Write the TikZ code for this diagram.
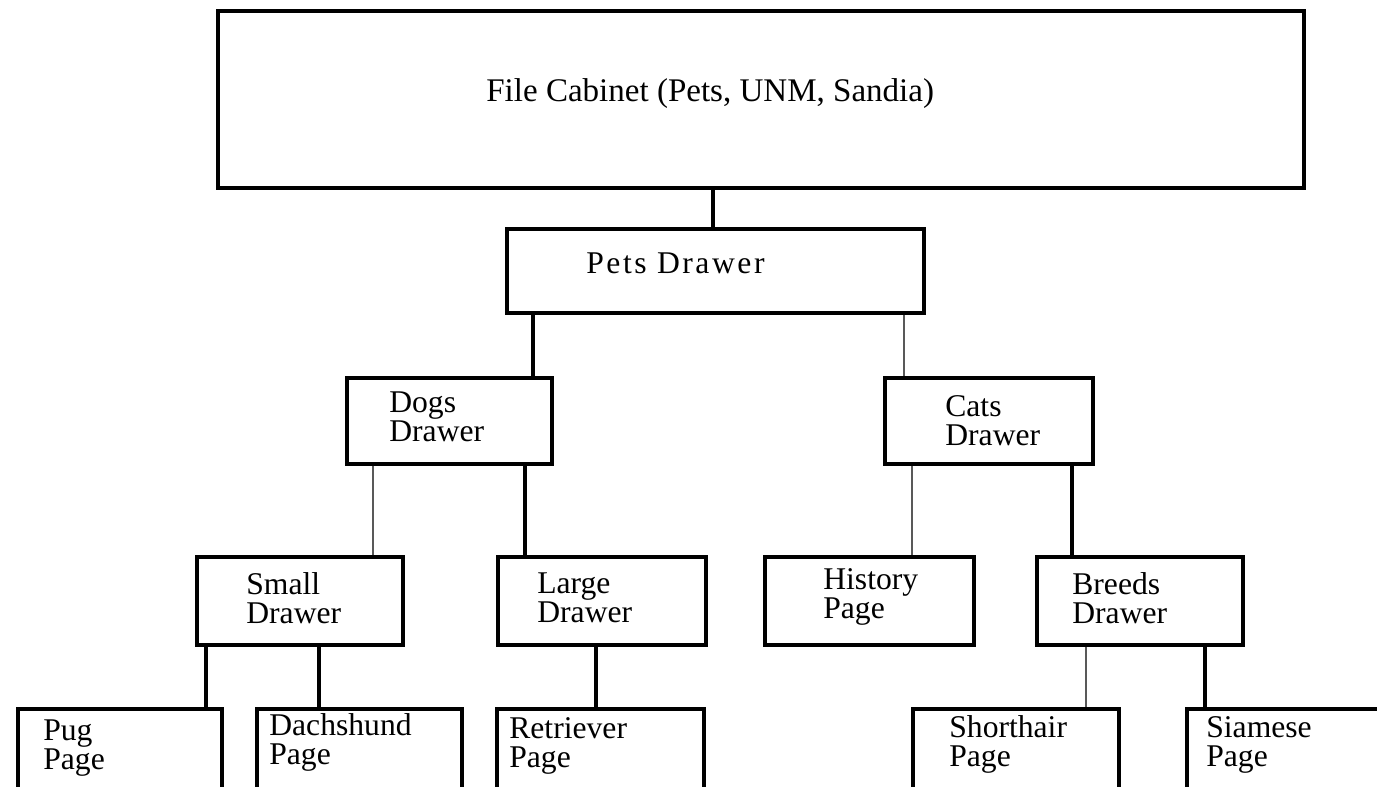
\documentclass[tikz,border=0pt]{standalone}
\usepackage{fontspec}
\setmainfont{Liberation Serif}
\usetikzlibrary{fit}
\newcommand{\lblfont}{\fontsize{18pt}{16.5pt}\selectfont}

\begin{document}
\begin{tikzpicture}[x=0.02cm, y=-0.02cm,
      box/.style={draw, line width=2.2pt, inner sep=0pt},
      lbl/.style={font=\lblfont, align=left, anchor=north west, inner sep=0pt},
      conn/.style={line width=2pt},
      thinconn/.style={line width=1pt, draw=black!65}]
    \clip (0,0) rectangle (1377,787);
    % cabinet and drawers
    \node[box, fit={(218,11) (1304,188)}] (cabinet) {};
    \node[lbl, font=\fontsize{18.8pt}{18pt}\selectfont] (cabinetTxt) at (486,78)
          {File Cabinet (Pets, UNM, Sandia)};
    \node[box, fit={(507,229) (924,313)}] (pets) {};
    \node[lbl, font=\lblfont\addfontfeature{LetterSpace=8}] (petsTxt) at (586,252) {Pets Drawer};
    \node[box, fit={(347,378) (552,464)}] (dogs) {};
    \node[lbl] (dogsTxt) at (389,391) {Dogs\\Drawer};
    \node[box, fit={(885,378) (1093,464)}] (cats) {};
    \node[lbl] (catsTxt) at (945,395) {Cats\\Drawer};
    \node[box, fit={(197,557) (403,645)}] (small) {};
    \node[lbl] (smallTxt) at (246,572) {Small\\Drawer};
    \node[box, fit={(498,557) (706,645)}] (large) {};
    \node[lbl] (largeTxt) at (537,572) {Large\\Drawer};
    \node[box, fit={(765,557) (974,645)}] (history) {};
    \node[lbl] (historyTxt) at (823,568) {History\\Page};
    \node[box, fit={(1037,557) (1243,645)}] (breeds) {};
    \node[lbl] (breedsTxt) at (1072,572) {Breeds\\Drawer};
    % pages (cut off at the bottom)
    \foreach \n/\xa/\xb/\tx/\ty/\t in {pug/18/222/43/719/Pug,
        dachshund/257/462/269/713/Dachshund, retriever/497/704/509/717/Retriever,
        shorthair/913/1119/949/715/Shorthair, siamese/1187/1400/1206/716/Siamese} {
      \node[box, fit={(\xa,709) (\xb,820)}] (\n) {};
      \node[lbl] (\n Txt) at (\tx,\ty) {\t\\Page};
    }
    % connectors
    \draw[conn] (713,0 |- cabinet.south) -- (713,0 |- pets.north);
    \draw[conn] (533,0 |- pets.south) -- (533,0 |- dogs.north);
    \draw[thinconn] (904,0 |- pets.south) -- (904,0 |- cats.north);
    \draw[thinconn] (373,0 |- dogs.south) -- (373,0 |- small.north);
    \draw[conn] (525,0 |- dogs.south) -- (525,0 |- large.north);
    \draw[thinconn] (912,0 |- cats.south) -- (912,0 |- history.north);
    \draw[conn] (1072,0 |- cats.south) -- (1072,0 |- breeds.north);
    \draw[conn] (206,0 |- small.south) -- (206,0 |- pug.north);
    \draw[conn] (319,0 |- small.south) -- (319,0 |- dachshund.north);
    \draw[conn] (596,0 |- large.south) -- (596,0 |- retriever.north);
    \draw[thinconn] (1086,0 |- breeds.south) -- (1086,0 |- shorthair.north);
    \draw[conn] (1205,0 |- breeds.south) -- (1205,0 |- siamese.north);
\end{tikzpicture}
\end{document}
